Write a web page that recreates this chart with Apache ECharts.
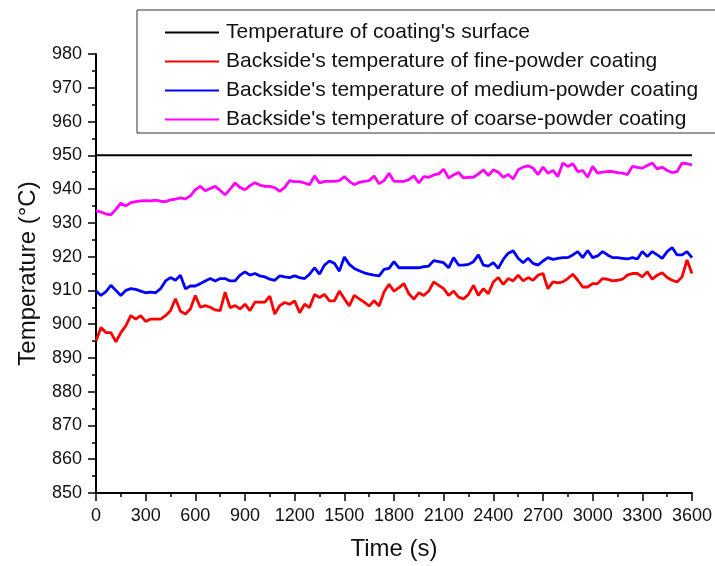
<!DOCTYPE html>
<html>
<head>
<meta charset="utf-8">
<script src="https://cdn.jsdelivr.net/npm/echarts@6/dist/echarts.min.js"></script>
<style>
  html, body { margin: 0; padding: 0; background: #fff; }
  #chart { width: 715px; height: 566px; }
</style>
</head>
<body>
<div id="chart"></div>
<script>
// sampling step of the readings (s)
var STEP = 30;

var seriesNames = [
  "Temperature of coating's surface",
  "Backside's temperature of fine-powder coating",
  "Backside's temperature of medium-powder coating",
  "Backside's temperature of coarse-powder coating"
];

// surface temperature (start / end of the run)
var surfaceTimes = [0, 3600];
var surfaceTemp = [950, 950];

// fine powder (red), one value every 30 s
var fineTemp = [
  895, 899, 897.5, 897.5, 894.8, 897.5, 899.5, 902.5, 901.5, 902.5,
  900.8, 901.5, 901.5, 901.5, 902.5, 904, 907.5, 903.8, 903, 904.5,
  908.5, 905, 905.5, 905, 904.2, 904, 909.5, 904.9, 905.5, 904.5,
  905.9, 904, 906.5, 906.5, 906.5, 908.3, 903, 905.5, 906.4, 905.9,
  906.9, 903.4, 905.9, 904.9, 908.8, 907.9, 908.8, 906.9, 906.9, 909.8,
  907.5, 905.4, 908.5, 907.5, 906.5, 905.4, 906.9, 905.4, 909.5, 911.8,
  909.8, 910.8, 912, 909, 907.4, 909.3, 908.5, 909.8, 912.5, 911.5,
  910.5, 908.5, 909.8, 908, 907.5, 908.8, 911.5, 908.5, 910.5, 909,
  912.5, 913.8, 911.8, 913.5, 912.8, 914.5, 912.8, 913.8, 913, 914.5,
  915, 910.5, 912.5, 912.2, 912.5, 913.5, 914.8, 913, 911, 911,
  912, 912, 913.5, 913.3, 912.8, 913, 913.3, 914.5, 915, 915,
  914, 915.5, 913.3, 914.5, 915.2, 913.8, 913, 912.5, 914, 919,
  915
];

// medium powder (blue)
var mediumTemp = [
  909.8, 908.5, 909.6, 911.5, 910, 908.5, 910, 910.5, 910.3, 909.8,
  909.3, 909.5, 909.3, 910.5, 912.8, 913.8, 913, 914.5, 910.5, 911.3,
  911.3, 912, 912.8, 913.5, 912.8, 913.5, 913.5, 912.8, 912.8, 914.5,
  915.5, 914.5, 915, 914.3, 914, 913.3, 913, 914.3, 914, 913.8,
  914.3, 913.8, 913.5, 914.8, 916.7, 914.8, 917.5, 918.7, 918, 915.7,
  919.9, 917.7, 916.5, 915.8, 915.2, 914.8, 914.5, 914.3, 916.2, 916.5,
  918.5, 916.7, 916.7, 916.7, 916.7, 916.7, 917, 917.2, 918.8, 918.5,
  918.2, 916.7, 919.7, 917.5, 917.5, 917.7, 918.5, 920.5, 917.5, 917.2,
  918.2, 916.5, 919.2, 921, 921.7, 919.5, 918.2, 919.5, 918, 917.5,
  918.7, 919.7, 919.2, 919.5, 919.7, 919.7, 920.5, 921.5, 919.7, 921.8,
  919.7, 920.2, 921.5, 920.5, 919.7, 919.7, 919.5, 919.3, 919.7, 919.3,
  921.5, 920, 921.5, 920.5, 919.5, 921.5, 922.7, 920.5, 920.5, 921.5,
  919.7
];

// coarse powder (magenta)
var coarseTemp = [
  933.6, 933.2, 932.6, 932.4, 934, 935.8, 935, 936, 936.3, 936.5,
  936.6, 936.5, 936.7, 936.4, 936.3, 936.8, 937, 937.4, 937.1, 938,
  939.8, 940.8, 939.5, 940.2, 940.8, 939.6, 938.3, 940, 941.8, 940.5,
  939.8, 941, 941.9, 941.2, 940.8, 940.8, 940.4, 939.3, 940.5, 942.5,
  942.2, 942.2, 941.8, 941.3, 943.9, 941.8, 942.3, 942.3, 942.3, 942.5,
  943.7, 942.3, 941.3, 942, 942.3, 942.5, 943.9, 941.6, 942.5, 944.7,
  942.3, 942.3, 942.3, 942.8, 943.9, 941.8, 943.7, 943.5, 944.2, 944.5,
  945.9, 943.3, 944.2, 944.9, 943.3, 943.5, 943.5, 944.5, 945.7, 944,
  945.7, 945, 943.5, 944.3, 943, 945.7, 946.5, 946.9, 946.2, 944.3,
  946.5, 944.7, 945.5, 943.7, 947.7, 946.7, 947.5, 945.2, 945.5, 943.5,
  946.7, 944.7, 945, 945.2, 945.2, 944.9, 944.7, 944.3, 946.7, 946.4,
  946.2, 947, 947.7, 946, 946.5, 945.5, 944.9, 945.2, 947.7, 947.5,
  947.2
];

function pairs(vals) {
  return vals.map(function (v, i) { return [i * STEP, v]; });
}

var surfaceData = surfaceTimes.map(function (t, i) { return [t, surfaceTemp[i]]; });

var FONT = 'Liberation Sans';

var myChart = echarts.init(document.getElementById('chart'), null, { renderer: 'canvas' });

var option = {
  animation: false,
  backgroundColor: '#fff',
  grid: { left: 96, right: 22, top: 54, bottom: 73, containLabel: false },
  legend: {
    orient: 'vertical',
    left: 137,
    top: 10,
    padding: [12, 40, 3, 28],
    itemGap: 8,
    itemWidth: 54,
    itemHeight: 2,
    icon: 'rect',
    borderColor: '#333',
    borderWidth: 1,
    textStyle: { fontFamily: FONT, fontSize: 21, color: '#111', padding: [0, 0, 0, 2] },
    data: seriesNames
  },
  xAxis: {
    type: 'value',
    min: 0,
    max: 3600,
    interval: 300,
    name: 'Time (s)',
    nameLocation: 'middle',
    nameGap: 44,
    nameTextStyle: { fontFamily: FONT, fontSize: 24, color: '#111' },
    axisLine: { lineStyle: { color: '#000', width: 2 } },
    axisTick: { show: true, inside: false, length: 8, lineStyle: { color: '#000', width: 1.5 } },
    minorTick: { show: true, splitNumber: 2, length: 4, lineStyle: { color: '#000', width: 1.5 } },
    axisLabel: {
      fontFamily: FONT, fontSize: 18, color: '#111', margin: 14,
      formatter: function (v) { return String(v); }
    },
    splitLine: { show: false }
  },
  yAxis: {
    type: 'value',
    min: 850,
    max: 980,
    interval: 10,
    name: 'Temperature (\u00B0C)',
    nameLocation: 'middle',
    nameGap: 56,
    nameTextStyle: { fontFamily: FONT, fontSize: 24, color: '#111' },
    axisLine: { show: true, lineStyle: { color: '#000', width: 2 } },
    axisTick: { show: true, inside: false, length: 8, lineStyle: { color: '#000', width: 1.5 } },
    minorTick: { show: true, splitNumber: 2, length: 4, lineStyle: { color: '#000', width: 1.5 } },
    axisLabel: {
      fontFamily: FONT, fontSize: 18, color: '#111', margin: 14,
      formatter: function (v) { return String(v); }
    },
    splitLine: { show: false }
  },
  series: [
    {
      name: seriesNames[0], type: 'line', symbol: 'none',
      lineStyle: { color: '#000000', width: 2 }, itemStyle: { color: '#000000' },
      data: surfaceData
    },
    {
      name: seriesNames[1], type: 'line', symbol: 'none',
      lineStyle: { color: '#ff0000', width: 2.8 }, itemStyle: { color: '#ff0000' },
      data: pairs(fineTemp)
    },
    {
      name: seriesNames[2], type: 'line', symbol: 'none',
      lineStyle: { color: '#0000ff', width: 2.8 }, itemStyle: { color: '#0000ff' },
      data: pairs(mediumTemp)
    },
    {
      name: seriesNames[3], type: 'line', symbol: 'none',
      lineStyle: { color: '#ff00ff', width: 2.8 }, itemStyle: { color: '#ff00ff' },
      data: pairs(coarseTemp)
    }
  ]
};

myChart.setOption(option);
</script>
</body>
</html>
